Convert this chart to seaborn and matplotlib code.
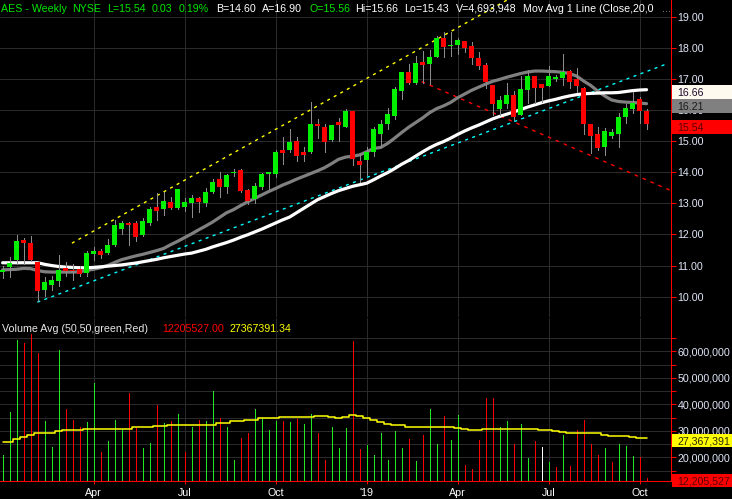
import numpy as np
import pandas as pd
import matplotlib
matplotlib.use("Agg")
import matplotlib.pyplot as plt
from matplotlib.patches import Rectangle
import seaborn as sns

sns.set_theme(style="dark", rc={"axes.facecolor": "black", "figure.facecolor": "black"})
plt.rcParams["font.family"] = ["Liberation Sans", "DejaVu Sans"]

# ---------------- weekly AES data ----------------
opens = [10.80, 10.94, 11.18, 11.81, 11.71, 11.10, 10.20, 10.36, 10.49, 10.91,
         10.87, 10.90, 10.75, 11.37, 11.46, 11.39, 11.65, 12.19, 12.36, 12.36,
         11.97, 12.36, 12.87, 12.81, 13.06, 12.84, 12.87, 13.00, 13.19, 13.00,
         13.38, 13.77, 13.52, 13.97, 14.06, 13.42, 13.14, 13.52, 13.96, 13.96,
         14.73, 14.73, 15.02, 14.67, 14.65, 15.54, 15.47, 15.03, 15.62, 15.47,
         15.97, 14.35, 14.41, 14.67, 15.23, 15.54, 15.81, 16.63, 17.24, 16.89,
         17.54, 17.50, 17.72, 18.33, 18.06, 18.11, 18.24, 18.07, 17.69, 17.46,
         16.82, 16.05, 16.21, 16.50, 15.83, 16.66, 17.11, 16.85, 16.79, 17.02,
         17.05, 17.27, 17.01, 16.73, 15.54, 15.22, 14.83, 15.18, 15.25, 15.79,
         16.05, 16.37, 15.99]
highs = [10.97, 11.28, 11.97, 11.90, 11.94, 11.12, 10.64, 10.66, 11.34, 11.12,
         11.05, 10.99, 11.47, 11.60, 11.52, 11.84, 12.48, 12.42, 12.41, 12.42,
         12.52, 12.87, 13.32, 13.38, 13.22, 13.47, 13.19, 13.27, 13.20, 13.48,
         13.80, 14.01, 13.95, 14.12, 14.10, 13.45, 13.66, 13.97, 14.02, 14.73,
         15.13, 15.38, 15.15, 14.80, 16.28, 15.73, 15.54, 15.51, 15.76, 16.04,
         15.97, 14.58, 14.81, 15.45, 15.67, 16.08, 16.75, 17.24, 17.50, 17.75,
         17.90, 17.95, 18.40, 18.52, 18.52, 18.33, 18.24, 18.20, 17.88, 17.53,
         16.82, 16.47, 16.89, 16.63, 17.11, 17.30, 17.11, 16.85, 17.43, 17.12,
         17.82, 17.30, 17.37, 16.76, 15.54, 15.47, 15.44, 15.41, 15.92, 16.21,
         16.57, 16.44, 16.05]
lows = [10.60, 10.63, 11.04, 11.04, 11.15, 9.86, 10.03, 10.21, 10.34, 10.67,
        10.55, 10.66, 10.66, 11.18, 11.23, 11.37, 11.62, 12.03, 11.65, 11.78,
        11.95, 12.29, 12.45, 12.64, 12.81, 12.81, 12.77, 12.55, 12.71, 12.93,
        13.32, 13.22, 13.34, 13.88, 13.37, 12.99, 13.00, 13.45, 13.45, 13.85,
        14.28, 14.67, 14.38, 14.38, 14.62, 15.09, 14.67, 15.02, 15.02, 15.47,
        14.23, 13.70, 13.93, 14.52, 14.80, 15.38, 15.73, 16.36, 16.85, 16.85,
        16.89, 16.85, 17.72, 17.72, 17.73, 17.82, 17.88, 17.50, 17.34, 16.73,
        15.83, 15.83, 16.08, 15.67, 15.83, 16.24, 16.24, 16.28, 16.79, 16.95,
        16.82, 16.73, 16.57, 15.25, 14.61, 14.73, 14.57, 15.09, 14.83, 15.60,
        15.92, 15.60, 15.41]
closes = [10.86, 11.07, 11.78, 11.71, 11.17, 10.18, 10.46, 10.52, 10.86, 10.84,
          10.83, 10.73, 11.39, 11.47, 11.33, 11.65, 12.32, 12.36, 12.29, 11.91,
          12.42, 12.81, 12.77, 13.09, 12.84, 13.45, 13.03, 13.19, 13.03, 13.38,
          13.70, 13.54, 13.93, 14.00, 13.41, 13.08, 13.55, 13.96, 14.00, 14.67,
          14.62, 14.99, 14.51, 14.57, 15.54, 15.48, 14.97, 15.51, 15.53, 15.97,
          14.42, 14.23, 14.67, 15.38, 15.54, 15.89, 16.69, 17.24, 16.89, 17.53,
          17.46, 17.72, 18.33, 18.04, 18.08, 18.27, 18.01, 17.69, 17.43, 16.92,
          16.21, 16.34, 16.50, 15.79, 16.69, 17.11, 16.73, 16.73, 17.11, 17.06,
          17.24, 16.92, 16.79, 15.54, 15.18, 14.77, 15.34, 15.31, 15.79, 16.08,
          16.24, 15.99, 15.54]
# weekly volume, millions of shares
volume_m = [20.8, 37.1, 64.3, 63.1, 66.6, 59.3, 33.7, 23.8, 60.5, 38.3,
            34.1, 31.5, 33.4, 48.2, 21.9, 26.1, 34.1, 30.6, 44.1, 31.1,
            23.4, 25.3, 39.8, 33.0, 33.7, 36.4, 21.9, 31.4, 34.1, 33.7,
            45.2, 34.9, 31.4, 18.9, 27.3, 29.2, 38.3, 34.9, 30.3, 33.7,
            33.7, 33.4, 34.5, 32.5, 36.4, 29.2, 18.9, 31.5, 23.4, 31.1,
            63.9, 23.1, 24.6, 21.1, 29.2, 18.9, 29.9, 23.4, 26.9, 18.5,
            28.4, 38.3, 24.9, 35.6, 26.5, 36.0, 17.3, 15.8, 26.5, 42.5,
            42.5, 31.5, 33.7, 24.9, 32.6, 19.6, 26.1, 23.8, 18.1, 16.2,
            28.4, 16.6, 30.3, 34.2, 24.9, 21.1, 23.4, 18.1, 24.9, 24.2,
            20.4, 20.1, 12.205527]
# 20-week moving average of close
ma20 = [10.86, 10.87, 10.88, 10.91, 10.90, 10.84, 10.80, 10.79, 10.79, 10.79,
        10.79, 10.80, 10.84, 10.88, 10.93, 11.00, 11.10, 11.19, 11.25, 11.31,
        11.36, 11.42, 11.48, 11.55, 11.67, 11.78, 11.90, 12.02, 12.15, 12.27,
        12.40, 12.55, 12.70, 12.80, 12.93, 13.05, 13.16, 13.27, 13.38, 13.48,
        13.59, 13.68, 13.78, 13.87, 13.96, 14.05, 14.15, 14.28, 14.42, 14.49,
        14.52, 14.56, 14.66, 14.77, 14.80, 14.93, 15.10, 15.28, 15.45, 15.60,
        15.75, 15.92, 16.05, 16.14, 16.25, 16.40, 16.52, 16.64, 16.74, 16.84,
        16.93, 16.99, 17.06, 17.12, 17.18, 17.23, 17.26, 17.26, 17.25, 17.24,
        17.22, 17.18, 17.10, 16.94, 16.80, 16.62, 16.46, 16.33, 16.28, 16.26,
        16.25, 16.23, 16.21]
# 50-week moving average of close
ma50 = [11.09, 11.09, 11.09, 11.09, 11.09, 11.09, 11.04, 11.00, 10.97, 10.95,
        10.94, 10.93, 10.93, 10.94, 10.96, 10.98, 11.00, 11.02, 11.05, 11.08,
        11.12, 11.16, 11.20, 11.25, 11.29, 11.33, 11.37, 11.40, 11.46, 11.52,
        11.60, 11.67, 11.74, 11.82, 11.91, 11.99, 12.08, 12.17, 12.27, 12.37,
        12.47, 12.56, 12.70, 12.84, 12.98, 13.12, 13.22, 13.32, 13.41, 13.48,
        13.55, 13.60, 13.65, 13.76, 13.88, 13.99, 14.12, 14.26, 14.38, 14.52,
        14.66, 14.79, 14.90, 14.99, 15.10, 15.22, 15.33, 15.43, 15.52, 15.62,
        15.72, 15.80, 15.87, 15.94, 16.02, 16.10, 16.17, 16.24, 16.30, 16.35,
        16.41, 16.46, 16.50, 16.53, 16.54, 16.55, 16.56, 16.56, 16.57, 16.60,
        16.63, 16.65, 16.66]
# 50-week average volume, millions
vol_avg_m = [26.0, 26.0, 26.9, 27.8, 28.6, 29.2, 29.1, 29.1, 29.8, 30.3,
             30.3, 30.3, 30.6, 30.6, 30.6, 30.6, 30.6, 30.6, 30.9, 31.3,
             31.3, 31.3, 31.7, 31.7, 32.2, 32.3, 32.3, 32.3, 32.3, 32.3,
             32.3, 33.0, 33.0, 33.6, 33.6, 34.1, 34.1, 34.8, 34.8, 34.8,
             35.4, 35.4, 35.2, 35.2, 35.2, 35.5, 35.5, 35.2, 34.8, 35.2,
             35.9, 35.6, 34.9, 34.0, 33.3, 32.5, 32.3, 32.3, 31.6, 31.3,
             31.3, 31.3, 31.3, 31.3, 31.3, 31.1, 30.9, 30.3, 30.3, 30.8,
             30.9, 30.9, 30.9, 30.9, 30.6, 30.6, 30.6, 30.2, 30.2, 30.0,
             29.4, 29.1, 29.1, 29.1, 29.1, 29.1, 28.5, 28.1, 28.1, 28.1,
             27.6, 27.5, 27.36739134]

quarter_weeks = [13, 26, 39, 52, 65, 78, 91]
quarter_labels = ["Apr", "Jul", "Oct", "'19", "Apr", "Jul", "Oct"]
price_ticks = [10, 11, 12, 13, 14, 15, 16, 17, 18, 19]

# hand-drawn trendlines: (week, price) end points
channel_top_w, channel_top_p = [9.9, 72.1], [11.72, 19.55]
support_w, support_p = [4.96, 95.1], [9.82, 17.51]
resist_w, resist_p = [59.87, 95.6], [16.92, 13.40]

n = len(closes)
df = pd.DataFrame({
    "week": np.arange(n),
    "date": pd.date_range("2018-01-01", periods=n, freq="7D"),
    "open": opens, "high": highs, "low": lows, "close": closes,
    "volume": np.array(volume_m) * 1e6,
    "ma20": ma20, "ma50": ma50,
    "vol_avg": np.array(vol_avg_m) * 1e6,
})

GREEN = "#00f000"
RED = "#ff0000"
GRID = "#2a2a2a"
AXIS_TXT = "#dfe6f7"
W, H = 732, 499
FS = 7.7

fig = plt.figure(figsize=(W / 100, H / 100), dpi=100)
ax_p = fig.add_axes([0, 1 - 317 / H, 671 / W, 317 / H])
ax_v = fig.add_axes([0, 18 / H, 671 / W, 163 / H])

xlim = (-0.371, 95.49)
p_lim = (9.344, 19.547)
v_lim = (11.11e6, 72.56e6)

for ax in (ax_p, ax_v):
    ax.set_facecolor("black")
    ax.set_xlim(*xlim)
    for side in ("top", "left", "bottom"):
        ax.spines[side].set_visible(False)
    ax.spines["right"].set_color(RED)
    ax.spines["right"].set_linewidth(0.75)
    ax.yaxis.tick_right()
    ax.set_xticks(quarter_weeks)
    ax.grid(True, color=GRID, linewidth=0.75)
    ax.set_axisbelow(True)

# ---------------- price panel ----------------
ax_p.set_ylim(*p_lim)
ax_p.set_yticks(price_ticks)
ax_p.set_yticklabels([f"{t:.2f}" for t in price_ticks])
ax_p.tick_params(axis="y", colors=RED, length=3.6, width=0.75, pad=1,
                 labelcolor=AXIS_TXT, labelsize=FS)
ax_p.tick_params(axis="x", length=0, labelbottom=False)

dash = (0, (2.2, 3.2))
ax_p.plot(channel_top_w, channel_top_p, color="#ffff00", lw=1.0, ls=dash, zorder=2)
ax_p.plot(support_w, support_p, color="#00ffff", lw=1.0, ls=dash, zorder=2)
ax_p.plot(resist_w, resist_p, color=RED, lw=1.0, ls=(0, (2.6, 3.6)), zorder=2)

sns.lineplot(data=df, x="week", y="ma20", color="#808080", lw=2.3, ax=ax_p, zorder=3)
sns.lineplot(data=df, x="week", y="ma50", color="#ffffff", lw=2.3, ax=ax_p, zorder=3)

o = df["open"].to_numpy()
c = df["close"].to_numpy()
body_col = np.where(c >= o, GREEN, RED)
ax_p.vlines(df["week"], df["low"], df["high"], color="#8c8c8c", lw=0.5,
            antialiased=False, zorder=4)
ax_p.bar(df["week"], np.maximum(np.abs(c - o), 0.03), bottom=np.minimum(o, c),
         width=0.72, color=body_col, linewidth=0, antialiased=False, zorder=5)
ax_p.set_xlabel("")
ax_p.set_ylabel("")

# ---------------- volume panel ----------------
ax_v.set_ylim(*v_lim)
vticks = np.arange(15e6, 66e6, 5e6)
ax_v.set_yticks(vticks)
ax_v.set_yticklabels([f"{t:,.0f}" if round(t / 1e6) % 10 == 0 else "" for t in vticks])
ax_v.tick_params(axis="y", colors=RED, length=3.6, width=0.75, pad=1,
                 labelcolor=AXIS_TXT, labelsize=FS)
ax_v.spines["bottom"].set_visible(True)
ax_v.spines["bottom"].set_color(RED)
ax_v.spines["bottom"].set_linewidth(0.75)
ax_v.set_xticklabels(quarter_labels)
ax_v.tick_params(axis="x", colors=RED, length=2.4, width=0.75, pad=3,
                 labelcolor="white", labelsize=FS, bottom=True)

chg = np.diff(c, prepend=c[0] - 0.01)
vol_col = np.where(chg > 0, "#22e822", np.where(chg < 0, RED, "#ffffff"))
ax_v.vlines(df["week"], v_lim[0], df["volume"], colors=vol_col, lw=0.5,
            antialiased=False, zorder=3)
sns.lineplot(data=df, x="week", y="vol_avg", color="#ffff00", lw=1.1,
             drawstyle="steps-mid", ax=ax_v, zorder=4)
ax_v.set_xlabel("")
ax_v.set_ylabel("")


# ---------------- value tags on the right scale ----------------
def value_tag(ax, value, text, face, fg, h_px):
    y_px = ax.transData.transform((0, value))[1] - 2.4
    fig.add_artist(Rectangle((672 / W, (y_px - h_px / 2) / H), (W - 672) / W, h_px / H,
                             transform=fig.transFigure, facecolor=face,
                             edgecolor="none", zorder=10))
    fig.text(677 / W, y_px / H, text, color=fg, fontsize=FS, ha="left",
             va="center_baseline", zorder=11)


value_tag(ax_p, ma50[-1], f"{ma50[-1]:.2f}", "#fffaf0", "#1a0a2a", 14)
value_tag(ax_p, ma20[-1], f"{ma20[-1]:.2f}", "#808080", "#1c1c1c", 14)
value_tag(ax_p, closes[-1], f"{closes[-1]:.2f}", RED, "#5a0000", 14)
value_tag(ax_v, df["vol_avg"].iloc[-1], f"{df['vol_avg'].iloc[-1]:,.0f}",
          "#ffff00", "#2a2a00", 13)
value_tag(ax_v, df["volume"].iloc[-1], f"{df['volume'].iloc[-1]:,.0f}",
          RED, "#5a0000", 13)

# ---------------- header lines ----------------
HG = "#00e600"
header = [
    (1, "AES - Weekly", HG), (72, "NYSE", HG), (107, "L=15.54", HG),
    (152, "0.03", HG), (179, "0.19%", HG), (216, "B=14.60", "white"),
    (262, "A=16.90", "white"), (310, "O=15.56", HG), (355, "Hi=15.66", "white"),
    (404, "Lo=15.43", "white"), (456, "V=4,693,948", "white"),
    (523, "Mov Avg 1 Line (Close,20,0", "white"), (662, "...", "#9a9a9a"),
]
for x_px, txt, col in header:
    fig.text(x_px / W, 1 - 8.5 / H, txt, color=col, fontsize=FS, ha="left",
             va="center", zorder=12)

vol_header = [
    (2, "Volume Avg (50,50,green,Red)", "#e8e8e8"),
    (162, f"{df['volume'].iloc[-1]:.2f}", RED),
    (230, f"{df['vol_avg'].iloc[-1]:.2f}", "#ffff00"),
]
for x_px, txt, col in vol_header:
    fig.text(x_px / W, 1 - 329.5 / H, txt, color=col, fontsize=FS, ha="left",
             va="center", zorder=12)

fig.savefig("out.png", dpi=100, facecolor="black")
